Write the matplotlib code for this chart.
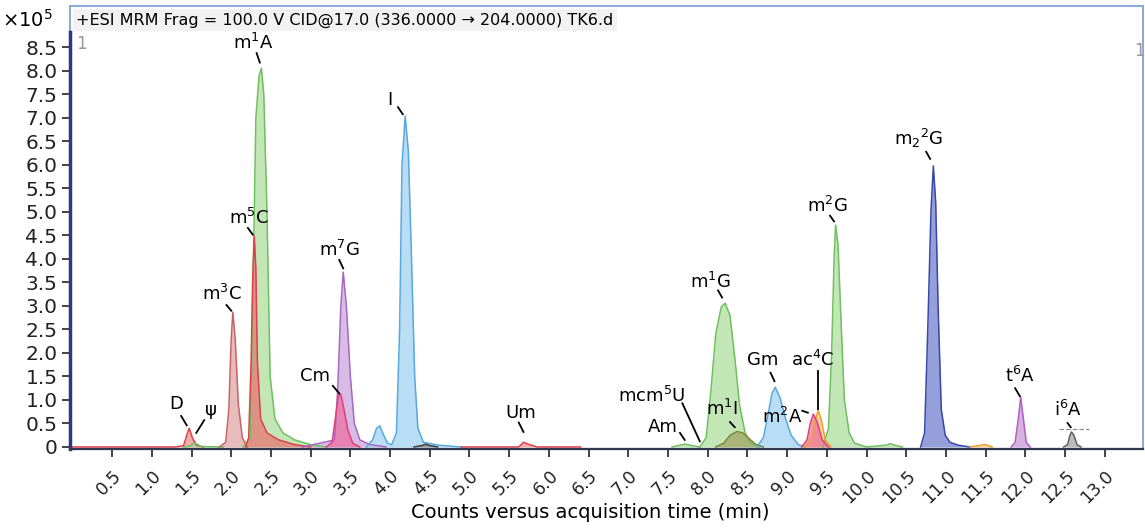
import numpy as np
from matplotlib import pyplot as plt
from matplotlib.patches import Rectangle

plt.rcParams['font.family'] = ['DejaVu Sans']
plt.rcParams['mathtext.default'] = 'regular'

# chromatogram traces, time (min) and counts (x1e5)
d_t = [0.00, 1.30, 1.40, 1.44, 1.47, 1.51, 1.56, 1.65]
d_y = [0.00, 0.00, 0.03, 0.25, 0.40, 0.20, 0.04, 0.00]
psi_t = [1.40, 1.48, 1.53, 1.57, 1.62, 1.90]
psi_y = [0.00, 0.02, 0.08, 0.06, 0.01, 0.00]
m3c_t = [1.85, 1.93, 1.97, 2.00, 2.02, 2.05, 2.09, 2.14, 2.20]
m3c_y = [0.00, 0.10, 0.80, 2.30, 2.87, 2.30, 0.90, 0.20, 0.00]
m5c_t = [2.18, 2.22, 2.25, 2.27, 2.29, 2.31, 2.33, 2.37, 2.45, 2.60, 2.80, 3.00]
m5c_y = [0.00, 0.20, 1.80, 3.60, 4.49, 3.80, 1.80, 0.60, 0.30, 0.15, 0.05, 0.00]
m1a_t = [2.15, 2.24, 2.27, 2.31, 2.35, 2.38, 2.41, 2.45, 2.49, 2.55, 2.65, 2.80, 3.00, 3.20]
m1a_y = [0.00, 0.20, 3.00, 7.00, 7.90, 8.06, 7.50, 5.00, 1.50, 0.60, 0.30, 0.15, 0.05, 0.00]
cm_t = [3.20, 3.27, 3.31, 3.35, 3.38, 3.42, 3.47, 3.53, 3.62]
cm_y = [0.00, 0.10, 0.60, 1.10, 1.12, 0.80, 0.35, 0.08, 0.00]
m7g_t = [2.90, 3.30, 3.34, 3.38, 3.41, 3.45, 3.50, 3.55, 3.62, 3.75, 3.95]
m7g_y = [0.00, 0.15, 1.20, 3.00, 3.72, 3.00, 1.50, 0.50, 0.15, 0.05, 0.00]
i_t = [3.70, 3.78, 3.83, 3.87, 3.92, 3.97, 4.02, 4.08, 4.12, 4.15, 4.19, 4.23, 4.27, 4.31, 4.35, 4.42, 4.60, 4.90]
i_y = [0.00, 0.15, 0.40, 0.45, 0.25, 0.08, 0.05, 0.30, 2.50, 6.00, 7.04, 6.30, 4.00, 1.50, 0.40, 0.10, 0.04, 0.00]
x45_t = [4.30, 4.40, 4.45, 4.50, 4.60]
x45_y = [0.00, 0.03, 0.06, 0.03, 0.00]
um_t = [4.90, 5.62, 5.68, 5.74, 5.85, 6.40]
um_y = [0.00, 0.00, 0.10, 0.06, 0.00, 0.00]
am_t = [7.55, 7.65, 7.72, 7.80, 7.90]
am_y = [0.00, 0.04, 0.06, 0.03, 0.00]
m1g_t = [7.90, 7.98, 8.04, 8.10, 8.17, 8.22, 8.28, 8.34, 8.40, 8.47, 8.55, 8.65]
m1g_y = [0.00, 0.20, 1.20, 2.40, 2.98, 3.06, 2.80, 1.90, 0.90, 0.30, 0.08, 0.00]
m1i_t = [8.10, 8.20, 8.28, 8.37, 8.44, 8.52, 8.60, 8.70]
m1i_y = [0.00, 0.08, 0.25, 0.33, 0.30, 0.18, 0.06, 0.00]
gm_t = [8.62, 8.70, 8.76, 8.81, 8.85, 8.91, 8.98, 9.05, 9.14, 9.22]
gm_y = [0.00, 0.20, 0.70, 1.15, 1.27, 1.05, 0.60, 0.25, 0.05, 0.00]
m2a_t = [9.18, 9.25, 9.29, 9.33, 9.38, 9.44, 9.52]
m2a_y = [0.00, 0.15, 0.50, 0.70, 0.52, 0.15, 0.00]
ac4c_t = [9.22, 9.30, 9.35, 9.39, 9.43, 9.48, 9.55]
ac4c_y = [0.00, 0.15, 0.55, 0.78, 0.58, 0.15, 0.00]
m2g_t = [9.45, 9.52, 9.56, 9.59, 9.61, 9.64, 9.68, 9.72, 9.78, 9.85, 10.00, 10.25, 10.30, 10.35, 10.45]
m2g_y = [0.00, 0.40, 2.00, 4.00, 4.72, 4.30, 2.60, 1.00, 0.30, 0.08, 0.00, 0.04, 0.07, 0.04, 0.00]
m22g_t = [10.68, 10.73, 10.77, 10.81, 10.84, 10.87, 10.90, 10.94, 10.99, 11.05, 11.15, 11.30]
m22g_y = [0.00, 0.30, 2.50, 5.00, 5.98, 5.20, 3.00, 0.80, 0.25, 0.10, 0.04, 0.00]
x115_t = [11.30, 11.48, 11.52, 11.58]
x115_y = [0.00, 0.05, 0.04, 0.00]
t6a_t = [11.82, 11.87, 11.91, 11.94, 11.97, 12.01, 12.06]
t6a_y = [0.00, 0.10, 0.60, 1.06, 0.65, 0.10, 0.00]
i6a_t = [12.48, 12.53, 12.56, 12.58, 12.61, 12.65, 12.70]
i6a_y = [0.00, 0.05, 0.25, 0.32, 0.25, 0.05, 0.00]

# (t, y, line colour, fill colour)
traces = [
    (d_t, d_y, '#e0404a', '#f08a8a'),
    (psi_t, psi_y, '#70c060', '#a8dc98'),
    (m3c_t, m3c_y, '#c86464', '#dca0a0'),
    (m1a_t, m1a_y, '#70c060', '#a8dc98'),
    (m5c_t, m5c_y, '#e0404a', '#e87070'),
    (m7g_t, m7g_y, '#a868c0', '#c8a0dc'),
    (cm_t, cm_y, '#e0407c', '#ec6c9c'),
    (i_t, i_y, '#58a8e0', '#9ccff2'),
    (x45_t, x45_y, '#404040', '#808080'),
    (um_t, um_y, '#e0404a', '#f08a8a'),
    (am_t, am_y, '#70c060', '#a8dc98'),
    (m1g_t, m1g_y, '#70c060', '#a8dc98'),
    (m1i_t, m1i_y, '#7a8a40', '#a0a060'),
    (gm_t, gm_y, '#58a8e0', '#9ccff2'),
    (m2g_t, m2g_y, '#70c060', '#a8dc98'),
    (ac4c_t, ac4c_y, '#f0a030', '#f8c070'),
    (m2a_t, m2a_y, '#e0407c', '#ec6c9c'),
    (m22g_t, m22g_y, '#3848a8', '#6878cc'),
    (x115_t, x115_y, '#f0a030', '#f8c070'),
    (t6a_t, t6a_y, '#b060c0', '#c890d8'),
    (i6a_t, i6a_y, '#606060', '#a0a0a0'),
]

# labels: text, text centre, tick line start, tick line end
labels = [
    ('D', (1.31, 0.92), (1.37, 0.66), (1.44, 0.46)),
    ('\u03c8', (1.74, 0.78), (1.66, 0.57), (1.56, 0.30)),
    ('m$^3$C', (1.88, 3.25), (1.94, 3.02), (2.00, 2.90)),
    ('m$^5$C', (2.22, 4.87), (2.21, 4.66), (2.27, 4.52)),
    ('m$^1$A', (2.28, 8.60), (2.32, 8.38), (2.36, 8.18)),
    ('m$^7$G', (3.36, 4.19), (3.36, 3.98), (3.41, 3.80)),
    ('Cm', (3.05, 1.50), (3.28, 1.30), (3.36, 1.14)),
    ('I', (4.00, 7.38), (4.10, 7.23), (4.16, 7.08)),
    ('Um', (5.64, 0.72), (5.62, 0.52), (5.68, 0.32)),
    ('mcm$^5$U', (7.29, 1.08), (7.68, 0.93), (7.90, 0.12)),
    ('Am', (7.43, 0.43), (7.65, 0.30), (7.71, 0.15)),
    ('m$^1$I', (8.18, 0.80), (8.28, 0.53), (8.34, 0.42)),
    ('m$^1$G', (8.03, 3.52), (8.13, 3.33), (8.18, 3.18)),
    ('Gm', (8.69, 1.85), (8.79, 1.58), (8.84, 1.40)),
    ('m$^2$A', (8.94, 0.64), (9.19, 0.77), (9.26, 0.73)),
    ('ac$^4$C', (9.32, 1.85), (9.39, 1.61), (9.39, 0.80)),
    ('m$^2$G', (9.50, 5.12), (9.54, 4.92), (9.59, 4.80)),
    ('m$_2$$^2$G', (10.66, 6.57), (10.75, 6.28), (10.80, 6.13)),
    ('t$^6$A', (11.93, 1.51), (11.87, 1.25), (11.93, 1.08)),
    ('i$^6$A', (12.54, 0.79), (12.53, 0.51), (12.57, 0.42)),
]

x_ticks = np.arange(0.5, 13.01, 0.5)
y_ticks = np.arange(0, 8.51, 0.5)

fig = plt.figure(figsize=(11.45, 5.3), dpi=100)
ax = fig.add_axes([70 / 1145, 81 / 530, 1073 / 1145, 443 / 530])
ax.set_xlim(-0.03, 13.48)
ax.set_ylim(-0.043, 9.383)

for t, y, lc, fc in traces:
    ax.fill_between(t, 0, y, color=fc, alpha=0.7, lw=0)
    ax.plot(t, y, color=lc, lw=1.1)

for txt, pos, p0, p1 in labels:
    ax.text(pos[0], pos[1], txt, fontsize=13, ha='center', va='center')
    ax.plot([p0[0], p1[0]], [p0[1], p1[1]], color='black', lw=1.3)

ax.plot([12.42, 12.80], [0.38, 0.38], color='#909090', lw=0.9, ls='--')

# frame and spines
for s in ['top', 'right']:
    ax.spines[s].set_visible(False)
ax.add_patch(Rectangle((0, 0), 1, 1, transform=ax.transAxes, fill=False,
                       ec='#8eaad4', lw=1.5, clip_on=False, zorder=0))
ax.spines['left'].set_color('#2a3a80')
ax.spines['left'].set_linewidth(2.5)
ax.spines['left'].set_bounds(-0.043, 8.83)
ax.spines['bottom'].set_color('#303850')
ax.spines['bottom'].set_linewidth(1.6)

ax.set_yticks(y_ticks)
ax.set_yticklabels(['0'] + ['%.1f' % v for v in y_ticks[1:]], fontsize=14.5)
ax.set_xticks(x_ticks)
ax.set_xticklabels(['%.1f' % v for v in x_ticks], fontsize=12.5, rotation=45,
                   ha='right', rotation_mode='anchor')
ax.tick_params(axis='both', direction='out', length=6, width=1.2, colors='#222222')
ax.tick_params(axis='x', pad=7)
ax.tick_params(axis='y', pad=3)
ax.set_xlabel('Counts versus acquisition time (min)', fontsize=14)
ax.xaxis.set_label_coords(0.485, -0.122)

ax.text(0.006, 0.985, '+ESI MRM Frag = 100.0 V CID@17.0 (336.0000 \u2192 204.0000) TK6.d',
        transform=ax.transAxes, fontsize=11.5, va='top', ha='left',
        bbox=dict(boxstyle='square,pad=0.2', fc='#f2f2f2', ec='none'))
ax.text(0.006, 0.935, '1', transform=ax.transAxes, fontsize=12, color='#999999', va='top')
ax.text(0.992, 0.918, '1', transform=ax.transAxes, fontsize=12, color='#999999', va='top')
fig.text(2 / 1145, 1 - 20 / 530, '\u00d710$^5$', fontsize=14, va='center', ha='left')

plt.savefig('out.png', dpi=100)
